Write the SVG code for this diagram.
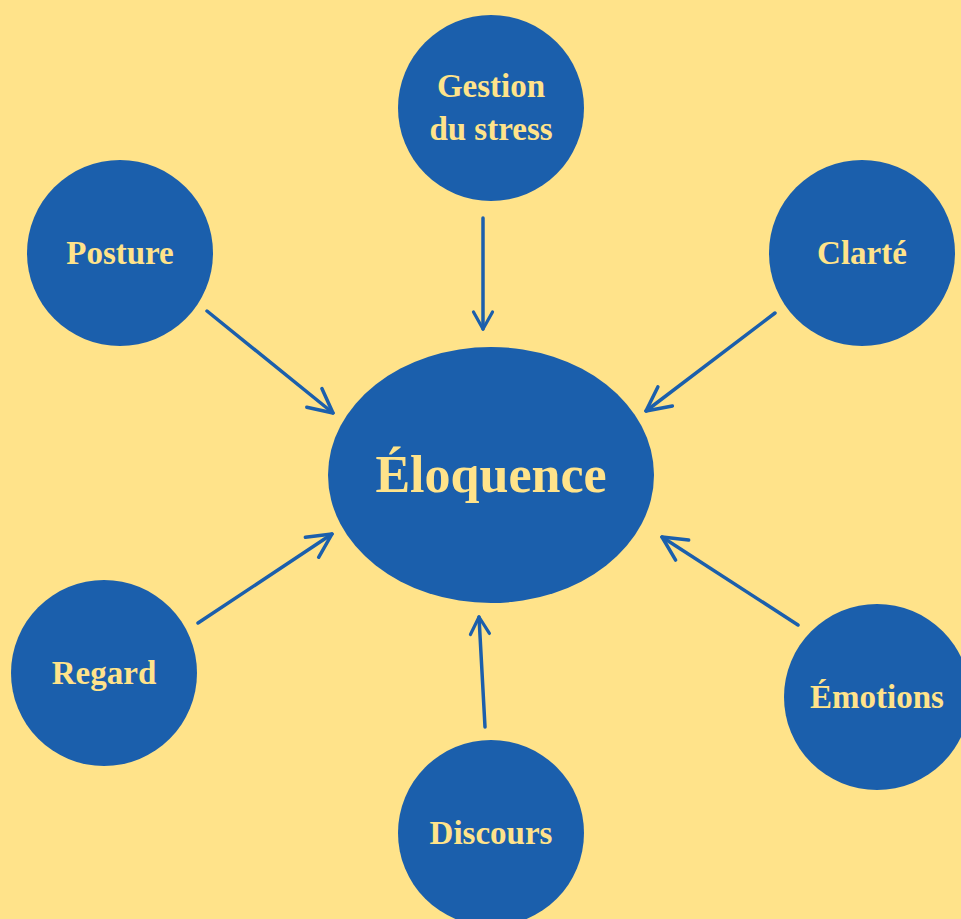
<svg xmlns="http://www.w3.org/2000/svg" width="961" height="919" viewBox="0 0 961 919">
  <style>
    .node { fill: #1B5FAC; }
    .label { fill: #FFE38A; font-family: "Liberation Serif", "DejaVu Serif", serif; font-weight: bold; font-size: 33px; text-anchor: middle; }
    .big { font-size: 52px; }
    .conn { stroke: #1B5FAC; stroke-width: 3.5; stroke-linecap: round; fill: none; }
  </style>
  <defs>
    <marker id="headL" markerUnits="userSpaceOnUse" markerWidth="40" markerHeight="40" viewBox="-30 -20 40 40" refX="0" refY="0" orient="auto" overflow="visible">
      <path d="M-24,-12 L0,0 L-24,12" fill="none" stroke="#1B5FAC" stroke-width="3.5" stroke-linecap="round" stroke-linejoin="round"/>
    </marker>
    <marker id="headS" markerUnits="userSpaceOnUse" markerWidth="40" markerHeight="40" viewBox="-30 -20 40 40" refX="0" refY="0" orient="auto" overflow="visible">
      <path d="M-17,-9.5 L0,0 L-17,9.5" fill="none" stroke="#1B5FAC" stroke-width="3.2" stroke-linecap="round" stroke-linejoin="round"/>
    </marker>
  </defs>
  <rect x="0" y="0" width="961" height="919" fill="#FFE38A"/>

  <g id="connectors">
    <line class="conn" x1="483" y1="218" x2="483" y2="329" marker-end="url(#headS)" stroke-width="3"/>
    <line class="conn" x1="207" y1="311" x2="333" y2="413" marker-end="url(#headL)"/>
    <line class="conn" x1="775" y1="313" x2="646" y2="411" marker-end="url(#headL)"/>
    <line class="conn" x1="198" y1="623" x2="332" y2="534" marker-end="url(#headL)"/>
    <line class="conn" x1="798" y1="625" x2="662" y2="537" marker-end="url(#headL)"/>
    <line class="conn" x1="485" y1="727" x2="479" y2="617" marker-end="url(#headS)"/>
  </g>

  <g id="node-eloquence">
    <ellipse class="node" cx="491" cy="475" rx="163" ry="128"/>
    <text class="label big" x="491" y="492">Éloquence</text>
  </g>
  <g id="node-gestion">
    <circle class="node" cx="491" cy="108" r="93"/>
    <text class="label" x="491" y="97">Gestion</text>
    <text class="label" x="491" y="140">du stress</text>
  </g>
  <g id="node-posture">
    <circle class="node" cx="120" cy="253" r="93"/>
    <text class="label" x="120" y="264">Posture</text>
  </g>
  <g id="node-clarte">
    <circle class="node" cx="862" cy="253" r="93"/>
    <text class="label" x="862" y="264">Clarté</text>
  </g>
  <g id="node-regard">
    <circle class="node" cx="104" cy="673" r="93"/>
    <text class="label" x="104" y="684">Regard</text>
  </g>
  <g id="node-emotions">
    <circle class="node" cx="877" cy="697" r="93"/>
    <text class="label" x="877" y="708">Émotions</text>
  </g>
  <g id="node-discours">
    <circle class="node" cx="491" cy="833" r="93"/>
    <text class="label" x="491" y="844">Discours</text>
  </g>
</svg>
